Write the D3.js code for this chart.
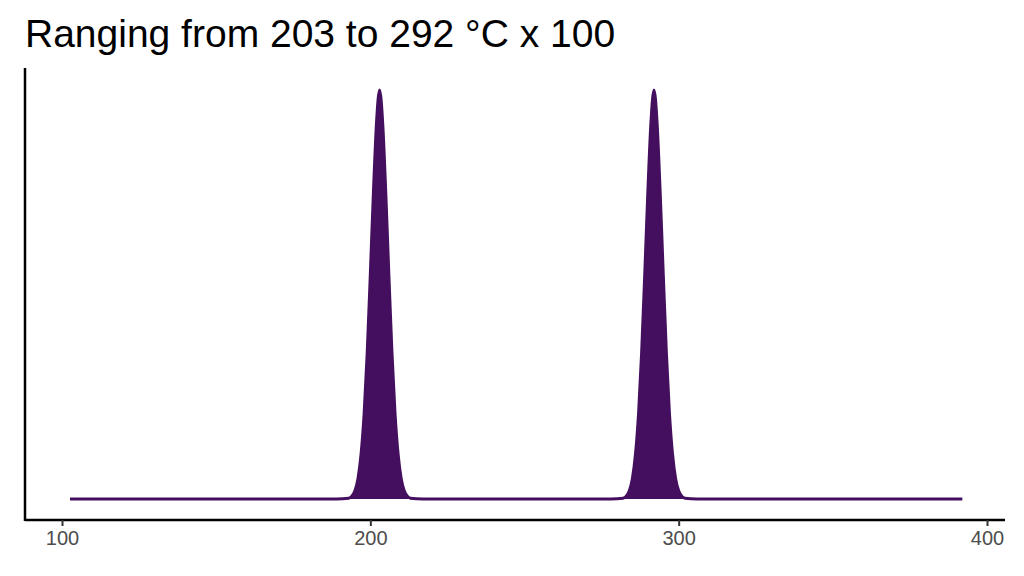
<!DOCTYPE html>
<html><head><meta charset="utf-8">
<script src="https://cdn.jsdelivr.net/npm/d3@7"></script>
<style>body{margin:0;background:#fff}</style></head>
<body><svg id="c" width="1024" height="576"></svg>
<script>
const title = "Ranging from 203 to 292 °C x 100";
const xTicks = [100, 200, 300, 400];
// density curve samples (temperature, relative density)
const temps = [102.6, 189, 193, 194, 195, 196, 197, 198, 199, 200, 201, 202, 203, 204, 205, 206, 207, 208, 209, 210, 211, 212, 213, 217,
               278, 282, 283, 284, 285, 286, 287, 288, 289, 290, 291, 292, 293, 294, 295, 296, 297, 298, 299, 300, 301, 302, 306, 392];
const density = [0, 0, 0.002, 0.007, 0.02, 0.05, 0.11, 0.21, 0.36, 0.55, 0.75, 0.92, 1, 0.92, 0.75, 0.55, 0.36, 0.21, 0.11, 0.05, 0.02, 0.007, 0.002, 0,
                 0, 0.002, 0.007, 0.02, 0.05, 0.11, 0.21, 0.36, 0.55, 0.75, 0.92, 1, 0.92, 0.75, 0.55, 0.36, 0.21, 0.11, 0.05, 0.02, 0.007, 0.002, 0, 0];
const data = temps.map((t,i)=>({t, d: density[i]}));
const svg = d3.select("#c");
const x = d3.scaleLinear().domain([100,400]).range([62,987]);
const y = d3.scaleLinear().domain([0,1]).range([499,90]);
svg.append("text").attr("x",25).attr("y",47).attr("font-family","Liberation Sans, Arial").attr("font-size",39).attr("fill","#000").text(title);
svg.append("path").datum(data).attr("fill","#440f5e")
  .attr("d", d3.area().x(d=>x(d.t)).y0(y(0)).y1(d=>y(d.d)).curve(d3.curveMonotoneX));
svg.append("path").datum(data).attr("fill","none").attr("stroke","#440f5e").attr("stroke-width",3)
  .attr("d", d3.line().x(d=>x(d.t)).y(d=>y(d.d)).curve(d3.curveMonotoneX));
const ax = svg.append("g").attr("transform","translate(0,520)")
  .call(d3.axisBottom(x).tickValues(xTicks).tickSize(6).tickPadding(5).tickSizeOuter(0));
ax.select(".domain").attr("d","M25,0H1005").attr("stroke","#000").attr("stroke-width",2.5);
ax.selectAll(".tick line").attr("stroke","#333").attr("stroke-width",2);
ax.selectAll(".tick text").attr("font-family","Liberation Sans, Arial").attr("font-size",20).attr("fill","#4d4d4d");
svg.append("line").attr("x1",25).attr("x2",25).attr("y1",68).attr("y2",521).attr("stroke","#000").attr("stroke-width",2.5);
</script></body></html>
